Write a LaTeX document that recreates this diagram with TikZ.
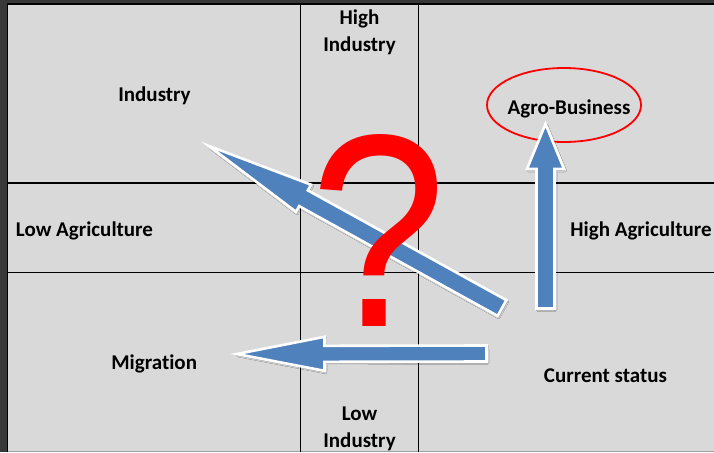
\documentclass[tikz,border=0pt]{standalone}
\usepackage{xcolor}
\usepackage{graphicx}
\usepackage{fontspec}
\setmainfont{Carlito}[Ligatures=NoCommon]
\newfontfamily\markfont{Liberation Sans}
\usepackage{tikz}
\usetikzlibrary{calc,positioning,shadows.blur}

\definecolor{framedark}{RGB}{56,56,56}
\definecolor{cellgray}{RGB}{217,217,217}
\definecolor{arrowblue}{RGB}{79,129,189}

\tikzset{
  gridline/.style={black, line width=1.1pt},
  cell/.style={font=\bfseries\fontsize{21}{27}\selectfont, inner sep=0pt, align=center},
  flowarrow/.style={fill=arrowblue, draw=white, line width=2.6pt, line join=miter,
    blur shadow={shadow xshift=1pt, shadow yshift=-1.5pt, shadow blur radius=1.5pt, shadow opacity=35}},
}

% tail, tip, shaft half width, head half width, head length
\newcommand{\blockarrow}[5]{%
  \coordinate (neck) at ($(#2)!#5!(#1)$);
  \draw[flowarrow] ($(#1)!#3!90:(#2)$) -- ($(neck)!#3!90:(#2)$) -- ($(neck)!#4!90:(#2)$) -- (#2)
    -- ($(neck)!#4!-90:(#2)$) -- ($(neck)!#3!-90:(#2)$) -- ($(#1)!#3!-90:(#2)$) -- cycle;}

\begin{document}
\begin{tikzpicture}[x=1pt,y=-1pt]
\useasboundingbox (0,0) rectangle (714,452);

%Frame
\fill[framedark] (0,0) rectangle (714,452);
\fill[black] (6.5,3.5) rectangle (714,452);
\fill[cellgray] (8,5) rectangle (714,451);
\fill[gray!75] (8,451) rectangle (714,452);

%Grid
\draw[gridline] (300.5,5) -- (300.5,452);
\draw[gridline] (418.5,5) -- (418.5,452);
\draw[gridline] (8,183) -- (714,183);
\draw[gridline] (8,272.5) -- (714,272.5);

%Labels
\node[cell, anchor=north] (highind) at (359.5,10) {High\\Industry};
\node[cell, anchor=base] (industry) at (154.5,101.5) {Industry};
\node[cell, anchor=base] (agro) at (569,114) {Agro-Business};
\node[cell, anchor=base] (lowagri) at (84.5,236.5) {Low Agriculture};
\node[cell, anchor=base] (highagri) at (641,236.5) {High Agriculture};
\node[cell, anchor=base] (migration) at (154.2,369.3) {Migration};
\node[cell, anchor=base] (current) at (605.5,382.7) {Current status};
\node[cell, anchor=north] (lowind) at (359.5,406.5) {Low\\Industry};

%Target
\draw[red, line width=1.8pt] (564,105) ellipse [x radius=77, y radius=37];

%Arrows
\coordinate (upTail) at (545.5,308.5);
\coordinate (upTip) at (545.5,124);
\coordinate (leftTail) at (486.5,353.5);
\coordinate (leftTip) at (237,354);
\coordinate (diagTail) at (502,308);
\coordinate (diagTip) at (209,146);
\blockarrow{upTail}{upTip}{9pt}{18.5pt}{45pt}
\blockarrow{leftTail}{leftTip}{8pt}{17pt}{87.5pt}
\blockarrow{diagTail}{diagTip}{9pt}{15.5pt}{108pt}

%Question
\node[red, inner sep=0pt, anchor=base, font=\markfont\fontsize{275}{275}\selectfont] (qmark) at (379,326.5) {\scalebox{0.89}[1]{?}};

\end{tikzpicture}
\end{document}
